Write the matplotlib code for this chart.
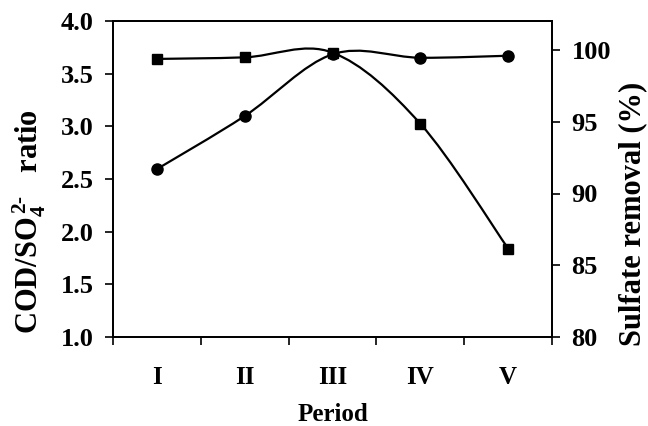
import matplotlib
matplotlib.use("Agg")
import matplotlib.pyplot as plt
import numpy as np
from matplotlib.path import Path
from matplotlib.patches import PathPatch

# ---- data ----
periods = ["I", "II", "III", "IV", "V"]
cod_so4_ratio = [3.64, 3.655, 3.70, 3.025, 1.84]      # left axis, squares
sulfate_removal = [91.7, 95.4, 99.7, 99.46, 99.6]    # right axis, circles
left_ticks = [1.0, 1.5, 2.0, 2.5, 3.0, 3.5, 4.0]
right_ticks = [80, 85, 90, 95, 100]

plt.rcParams['font.family'] = ['Liberation Serif', 'DejaVu Serif']
plt.rcParams['font.weight'] = 'bold'
plt.rcParams['mathtext.fontset'] = 'custom'
plt.rcParams['mathtext.rm'] = 'Liberation Serif:bold'
plt.rcParams['mathtext.bf'] = 'Liberation Serif:bold'
plt.rcParams['mathtext.it'] = 'Liberation Serif:bold'


def smooth_path(x, y):
    pts = np.column_stack([x, y]).astype(float)
    n = len(pts)
    verts = [pts[0]]
    codes = [Path.MOVETO]
    for i in range(n - 1):
        p0 = pts[max(i - 1, 0)]
        p1 = pts[i]
        p2 = pts[i + 1]
        p3 = pts[min(i + 2, n - 1)]
        c1 = p1 + (p2 - p0) / 6.0
        c2 = p2 - (p3 - p1) / 6.0
        verts += [c1, c2, p2]
        codes += [Path.CURVE4] * 3
    return Path(verts, codes)


fig = plt.figure(figsize=(6.48, 4.26), dpi=100)
ax = fig.add_axes([113 / 648, 1 - 337 / 426, (552 - 113) / 648, (337 - 21) / 426])
ax2 = ax.twinx()

x = np.arange(1, len(periods) + 1)
lw = 1.6

ax.add_patch(PathPatch(smooth_path(x, cod_so4_ratio), facecolor='none',
                       edgecolor='black', lw=lw, zorder=3))
ax.plot(x, cod_so4_ratio, linestyle='none', marker='s', color='black',
        markersize=7.5, zorder=4)

ax2.add_patch(PathPatch(smooth_path(x, sulfate_removal), facecolor='none',
                        edgecolor='black', lw=lw, zorder=3))
ax2.plot(x, sulfate_removal, linestyle='none', marker='o', color='black',
         markersize=8, zorder=4)

ax.set_xlim(0.5, 5.5)
ax.set_ylim(1.0, 4.0)
ax2.set_ylim(80, 80 + (337 - 21) / 71.75 * 5)

ax.set_xticks(np.arange(0.5, 5.6, 1.0))
ax.set_xticklabels([])
ax.set_xticks(x, minor=True)
ax.set_xticklabels(periods, minor=True, fontsize=18, fontweight='bold')
ax.tick_params(axis='x', which='major', direction='out', length=6, width=1.2)
ax.tick_params(axis='x', which='minor', length=0, pad=21)

ax.set_yticks(left_ticks)
ax.set_yticklabels([f"{v:.1f}" for v in left_ticks], fontsize=19, fontweight='bold')
ax.tick_params(axis='y', direction='out', length=6, width=1.2, pad=8)

ax2.set_yticks(right_ticks)
ax2.set_yticklabels([str(v) for v in right_ticks], fontsize=19, fontweight='bold')
ax2.tick_params(axis='y', direction='out', length=6, width=1.2, pad=8)

for a in (ax, ax2):
    for s in a.spines.values():
        s.set_linewidth(1.3)

ax.set_xlabel("Period", fontsize=18, fontweight='bold')
ax.xaxis.set_label_coords(0.5, -(421 - 337) / 316, transform=ax.transAxes)
ax.xaxis.label.set_va('baseline')

ax.set_ylabel(r"COD/SO$_{4}^{\,2\text{-}}$   ratio", fontsize=22, fontweight='bold')
ax.yaxis.set_label_coords(-0.148, 0.365)
ax2.set_ylabel("Sulfate removal (%)", fontsize=22, fontweight='bold')
ax2.yaxis.set_label_coords(1.150, 0.39)

fig.savefig("out.png", dpi=100)
